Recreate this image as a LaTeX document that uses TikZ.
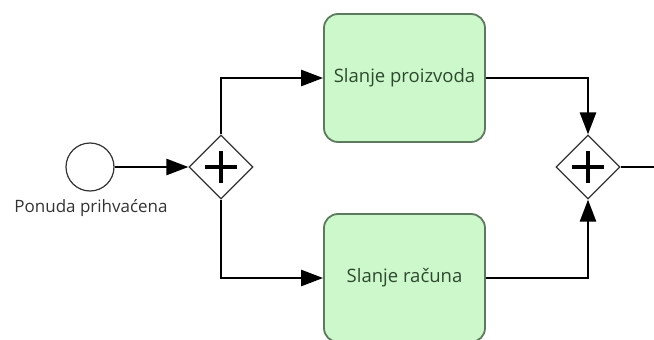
\documentclass[tikz,border=0pt]{standalone}
\usepackage{fontspec}
\setmainfont{Open Sans}
\usetikzlibrary{shapes.geometric,arrows.meta}
\definecolor{taskfill}{HTML}{CCF8CC}
\definecolor{taskdraw}{HTML}{5E7A5E}
\definecolor{tasktext}{HTML}{2E4A2E}
\tikzset{
  flow/.style={draw=black,line width=2.6pt,-{Triangle[length=22pt,width=16pt]}},
  flowplain/.style={draw=black,line width=2.6pt},
  taskbox/.style={draw=taskdraw,fill=taskfill,line width=1.8pt,rounded corners=14pt,minimum width=161pt,minimum height=128pt,inner sep=0pt,font=\fontsize{18.5}{20}\selectfont,text=tasktext},
  gateway/.style={draw=black!80,fill=white,line width=1.2pt,diamond,minimum width=64pt,minimum height=64pt,inner sep=0pt},
  startev/.style={draw=black!80,fill=white,line width=1.2pt,circle,minimum size=48pt,inner sep=0pt},
  plus/.style={line width=4.5pt},
}
\begin{document}
\begin{tikzpicture}[x=1pt,y=-1pt]
\useasboundingbox (0,0) rectangle (654,340);
\node[startev] (s) at (90,167) {};
\node[font=\fontsize{17}{19}\selectfont,text=black!80] (sl) at (91,208) {Ponuda prihvaćena};
\node[gateway] (g1) at (221,167) {};
\draw[plus] (g1.center) ++(-16,0) -- ++(32,0) (g1.center) ++(0,-16) -- ++(0,32);
\node[taskbox] (t1) at (404.5,78) {Slanje proizvoda};
\node[taskbox] (t2) at (404.5,278) {Slanje računa};
\node[gateway] (g2) at (588,167) {};
\draw[plus] (g2.center) ++(-16,0) -- ++(32,0) (g2.center) ++(0,-16) -- ++(0,32);
\coordinate (e) at (654,167);
\draw[flow] (s.east) -- (g1.west);
\draw[flow] (g1.north) |- (t1.west);
\draw[flow] (g1.south) |- (t2.west);
\draw[flow] (t1.east) -| (g2.north);
\draw[flow] (t2.east) -| (g2.south);
\draw[flowplain] (g2.east) -- (e);
\end{tikzpicture}
\end{document}
